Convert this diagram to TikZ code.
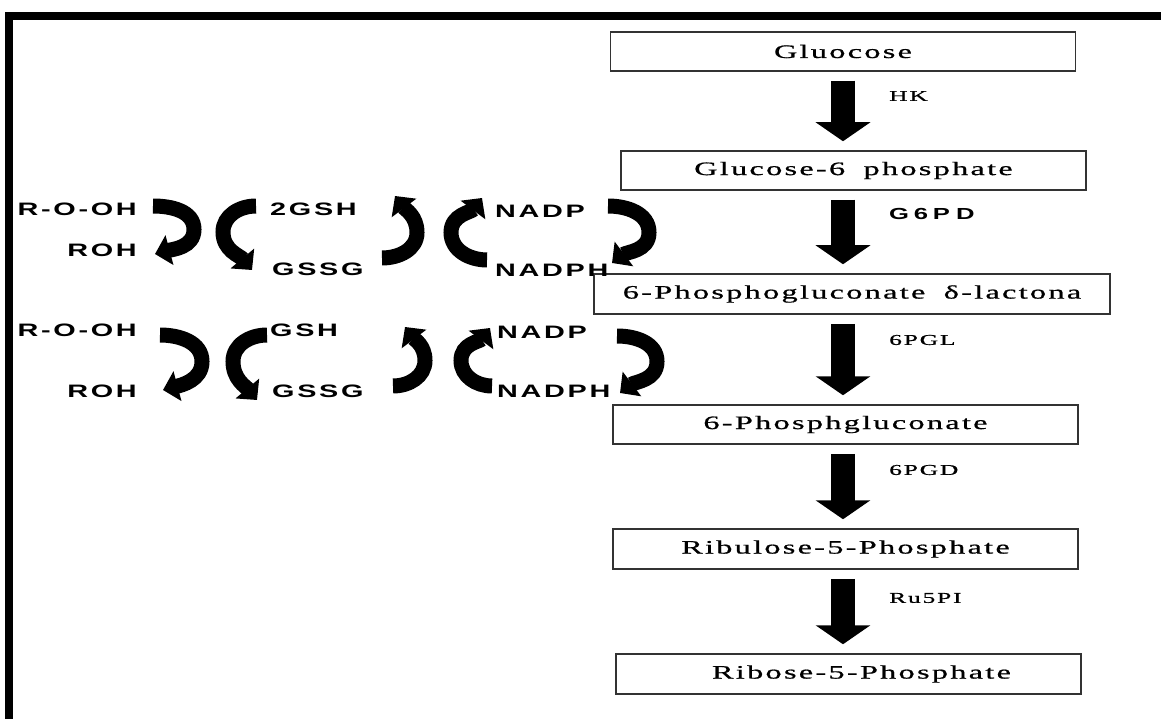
\documentclass[tikz,border=0pt]{standalone}
\usepackage{fontspec}
\setmainfont{Liberation Serif}
\newfontfamily\boxfont[FakeStretch=1.7,LetterSpace=12,FakeBold=0.8]{Liberation Serif}
\newfontfamily\tagfont[FakeStretch=1.6,LetterSpace=15]{Liberation Sans}
\usetikzlibrary{arrows.meta,calc}
\tikzset{
  stage/.style = {rectangle, draw=black!80, line width=1.5pt, fill=white,
                  minimum height=39pt, minimum width=465pt, inner sep=0pt,
                  font=\boxfont\fontsize{19}{22}\selectfont},
  enz/.style   = {anchor=west, inner sep=0pt,
                  font=\boxfont\fontsize{15}{18}\selectfont},
  mol/.style   = {inner sep=0pt, font=\tagfont\bfseries\fontsize{18}{20}\selectfont},
  flow/.style  = {line width=24pt, -{Triangle[length=19pt,width=54pt]},
                  shorten <=9pt, shorten >=9pt},
  cyc/.style   = {line width=15pt, -{Triangle[length=15pt,width=30pt]}},
}

\begin{document}
\begin{tikzpicture}[x=1pt,y=-1pt]
  \useasboundingbox (0,0) rectangle (1161,719);
  % frame
  \fill (5,12) rectangle (1161,20);
  \fill (5,12) rectangle (13,719);
  % pathway boxes
  \node[stage]                    (glc)  at (843,51.5)  {Gluocose\hspace{30pt}};
  \node[stage]                    (g6p)  at (853.5,170.5) {Glucose-6\hspace{8pt} phosphate};
  \node[stage, minimum width=516pt, minimum height=40pt]
                                  (lac)  at (852,294)   {6-Phosphogluconate\hspace{8pt} δ-lactona};
  \node[stage]                    (pgn)  at (845.5,424.5) {6-Phosphgluconate};
  \node[stage, minimum height=40pt] (ru5p) at (845.5,549) {Ribulose-5-Phosphate\hspace{10pt}};
  \node[stage, minimum height=40pt] (r5p)  at (848.5,674) {\hspace{26pt}Ribose-5-Phosphate};
  % enzymes
  \node[enz] (hk)  at (889,96)  {HK};
  \node[enz, font=\tagfont\bfseries\fontsize{16}{18}\selectfont\addfontfeature{LetterSpace=30}]
             (gpd) at (889,214) {G6P\hspace{6pt}D};
  \node[enz] (pgl) at (889,340) {6PGL};
  \node[enz] (pgd) at (889,470) {6PGD};
  \node[enz] (rpi) at (889,598) {Ru5PI};
  \draw[flow] (glc.south) -- (glc.south |- g6p.north);
  \draw[flow] (glc.south |- g6p.south) -- (glc.south |- lac.north);
  \draw[flow] (glc.south |- lac.south) -- (glc.south |- pgn.north);
  \draw[flow] (glc.south |- pgn.south) -- (glc.south |- ru5p.north);
  \draw[flow] (glc.south |- ru5p.south) -- (glc.south |- r5p.north);
  % glutathione cycles, first row
  \node[mol, anchor=east] (rooh1)  at (137,209) {R-O-OH};
  \node[mol, anchor=east] (roh1)   at (137,250) {ROH};
  \node[mol, anchor=west] (gsh1)   at (270,209) {2GSH};
  \node[mol, anchor=west] (gssg1)  at (272,269) {GSSG};
  \node[mol, anchor=west] (nadp1)  at (495,211) {NADP};
  \node[mol, anchor=west] (nadph1) at (495,270) {NADPH};
  \draw[cyc] ($(rooh1.east)+(16,-3)$) to[out=0,in=90]
    ($(rooh1.east)!.5!(roh1.east)+(57,0)$) to[out=-90,in=15] ($(roh1.east)+(18,4)$);
  \draw[cyc] ($(gsh1.west)+(-14,-3)$) to[out=180,in=90]
    ($(gsh1.west)!.5!(gssg1.west)+(-48,-7)$) to[out=-90,in=130] ($(gssg1.west)+(-20,1)$);
  \draw[cyc] ($(nadph1.west)+(-113,-12)$) to[out=0,in=-90]
    ($(nadp1.west)!.5!(nadph1.west)+(-78,-8)$) to[out=90,in=-53] ($(nadp1.west)+(-100,-15)$);
  \draw[cyc] ($(nadph1.west)+(-8,-10)$) to[out=180,in=-90]
    ($(nadp1.west)!.5!(nadph1.west)+(-44,-8)$) to[out=90,in=-127] ($(nadp1.west)+(-13,-13)$);
  \draw[cyc] ($(nadp1.west)+(113,-5)$) to[out=0,in=90]
    ($(nadp1.west)!.5!(nadph1.west)+(154,-8)$) to[out=-90,in=37] ($(nadph1.west)+(117,-7)$);
  % second row
  \node[mol, anchor=east] (rooh2)  at (137,330) {R-O-OH};
  \node[mol, anchor=east] (roh2)   at (137,391) {ROH};
  \node[mol, anchor=west] (gsh2)   at (270,330) {GSH};
  \node[mol, anchor=west] (gssg2)  at (272,391) {GSSG};
  \node[mol, anchor=west] (nadp2)  at (497,332) {NADP};
  \node[mol, anchor=west] (nadph2) at (497,391) {NADPH};
  \draw[cyc] ($(rooh2.east)+(23,5)$) to[out=0,in=90]
    ($(rooh2.east)!.5!(roh2.east)+(65,1)$) to[out=-90,in=15] ($(roh2.east)+(26,-1)$);
  \draw[cyc] ($(gsh2.west)+(-3,5)$) to[out=180,in=90]
    ($(gsh2.west)!.5!(gssg2.west)+(-38,1)$) to[out=-90,in=130] ($(gssg2.west)+(-15,9)$);
  \draw[cyc] ($(nadph2.west)+(-104,-5)$) to[out=0,in=-90]
    ($(nadp2.west)!.5!(nadph2.west)+(-72,-1)$) to[out=90,in=-53] ($(nadp2.west)+(-92,-5)$);
  \draw[cyc] ($(nadph2.west)+(-5,-5)$) to[out=180,in=-90]
    ($(nadp2.west)!.5!(nadph2.west)+(-36,-1)$) to[out=90,in=-127] ($(nadp2.west)+(-7,-4)$);
  \draw[cyc] ($(nadp2.west)+(120,4)$) to[out=0,in=90]
    ($(nadp2.west)!.5!(nadph2.west)+(160,0)$) to[out=-90,in=37] ($(nadph2.west)+(123,2)$);
\end{tikzpicture}
\end{document}
